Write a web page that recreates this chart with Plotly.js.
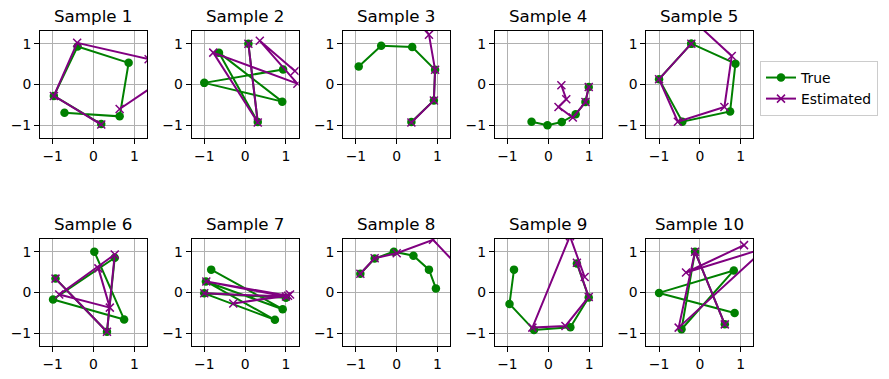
<!DOCTYPE html>
<html>
<head>
<meta charset="utf-8">
<script src="https://cdn.plot.ly/plotly-3.0.1.min.js"></script>
<style>html,body{margin:0;padding:0;background:#fff;}#chart{width:889px;height:379px;}</style>
</head>
<body>
<div id="chart"></div>
<script>
const sampleNames = ["Sample 1","Sample 2","Sample 3","Sample 4","Sample 5","Sample 6","Sample 7","Sample 8","Sample 9","Sample 10"];
const tickVals = [-1, 0, 1];
const tickText = ["\u22121", "0", "1"];

const trueX = [
  [-0.71, 0.64, 0.86, -0.39, -0.97, 0.19],
  [0.93, -1.0, 0.91, -0.64, 0.31, 0.08],
  [-0.93, -0.38, 0.38, 0.94, 0.91, 0.36],
  [-0.41, -0.02, 0.33, 0.67, 0.91, 0.99],
  [-0.21, -1.0, -0.43, 0.74, 0.87, -0.21],
  [0.02, 0.75, -0.99, 0.52, 0.33, -0.93],
  [-0.83, 0.92, -0.96, 0.73, -1.0, 1.0],
  [-0.89, -0.54, -0.07, 0.41, 0.79, 0.96],
  [-0.84, -0.95, -0.35, 0.54, 0.99, 0.70],
  [0.85, -1.0, 0.83, -0.45, -0.12, 0.61]
];
const trueY = [
  [-0.69, -0.78, 0.53, 0.93, -0.28, -0.97],
  [0.37, 0.04, -0.42, 0.78, -0.92, 1.0],
  [0.44, 0.95, 0.92, 0.36, -0.39, -0.92],
  [-0.91, -1.0, -0.92, -0.73, -0.43, -0.06],
  [1.0, 0.13, -0.91, -0.66, 0.51, 1.0],
  [1.0, -0.66, -0.17, 0.85, -0.96, 0.34],
  [0.56, -0.41, 0.27, -0.67, -0.02, -0.13],
  [0.46, 0.83, 1.0, 0.9, 0.56, 0.1],
  [0.56, -0.28, -0.92, -0.85, -0.12, 0.71],
  [-0.5, -0.01, 0.54, -0.9, 1.0, -0.78]
];
const estX = [
  [0.19, -0.97, -0.40, 1.35, 1.6, 0.64],
  [0.08, 0.31, -0.78, 1.28, 0.36, 1.22],
  [0.36, 0.91, 0.94, 0.79, 0.4, 0.0],
  [0.99, 0.91, 0.6, 0.25, 0.44, 0.32],
  [-0.21, -1.0, -0.54, 0.6, 0.78, -0.2],
  [-0.93, 0.33, 0.52, -0.84, 0.4, 0.12],
  [-1.0, 1.0, -0.95, 1.05, -0.29, 1.1],
  [-0.89, -0.54, 0.0, 0.89, 1.6, 1.8],
  [0.70, 0.99, 0.42, -0.39, 0.53, 0.89],
  [0.61, -0.12, -0.52, 1.61, -0.34, 1.08]
];
const estY = [
  [-0.98, -0.28, 1.02, 0.62, 0.05, -0.60],
  [1.0, -0.93, 0.78, 0.02, 1.07, 0.33],
  [-0.93, -0.39, 0.36, 1.22, 1.75, 2.0],
  [-0.06, -0.43, -0.81, -0.55, -0.36, -0.02],
  [1.0, 0.13, -0.91, -0.55, 0.70, 1.6],
  [0.34, -0.96, 0.93, -0.05, -0.37, 0.59],
  [-0.02, -0.1, 0.27, -0.08, -0.27, -0.05],
  [0.46, 0.84, 0.96, 1.29, 0.54, 0.0],
  [0.73, -0.11, -0.82, -0.86, 1.38, 0.38],
  [-0.78, 1.0, -0.86, 1.09, 0.49, 1.16]
];

const W = 889, H = 379;
const colLeft = [40, 191.6, 343.2, 494.8, 646.4];
const axW = 107;
const rowTop = [31, 239];
const axH = 107;
const FONT = "DejaVu Sans, sans-serif";

const data = [];
const layout = {
  width: W, height: H,
  margin: {l: 0, r: 0, t: 0, b: 0},
  paper_bgcolor: "#fff", plot_bgcolor: "#fff",
  font: {family: FONT, size: 13.9, color: "#000"},
  showlegend: true,
  legend: {
    x: 760 / W, y: 1 - 61 / H, xanchor: "left", yanchor: "top",
    bordercolor: "#cccccc", borderwidth: 1, bgcolor: "#fff",
    font: {family: FONT, size: 13.9, color: "#000"},
    tracegroupgap: 0
  },
  annotations: []
};

for (let i = 0; i < 10; i++) {
  const r = Math.floor(i / 5), c = i % 5;
  const sfx = i === 0 ? "" : String(i + 1);
  const x0 = colLeft[c] / W, x1 = (colLeft[c] + axW) / W;
  const yTop = 1 - rowTop[r] / H, yBot = 1 - (rowTop[r] + axH) / H;
  const axCommon = {
    range: [-1.31, 1.31], tickvals: tickVals, ticktext: tickText,
    showgrid: true, gridcolor: "#b0b0b0", gridwidth: 1,
    zeroline: false, showline: true, linecolor: "#000", linewidth: 1, mirror: true,
    ticks: "outside", ticklen: 5, tickwidth: 1, tickcolor: "#000",
    tickfont: {family: FONT, size: 13.9, color: "#000"}, fixedrange: true
  };
  layout["xaxis" + sfx] = Object.assign({}, axCommon, {domain: [x0, x1], anchor: "y" + sfx});
  layout["yaxis" + sfx] = Object.assign({}, axCommon, {domain: [yBot, yTop], anchor: "x" + sfx});
  data.push({
    type: "scatter", mode: "lines+markers", name: "True",
    x: trueX[i], y: trueY[i], xaxis: "x" + sfx, yaxis: "y" + sfx,
    line: {color: "green", width: 2},
    marker: {color: "green", size: 8.5, symbol: "circle"},
    showlegend: i === 0, legendgroup: "true"
  });
  data.push({
    type: "scatter", mode: "lines+markers", name: "Estimated",
    x: estX[i], y: estY[i], xaxis: "x" + sfx, yaxis: "y" + sfx,
    line: {color: "purple", width: 2},
    marker: {color: "purple", size: 8, symbol: "x-thin", line: {color: "purple", width: 1.5}},
    showlegend: i === 0, legendgroup: "est"
  });
  layout.annotations.push({
    text: sampleNames[i], xref: "paper", yref: "paper",
    x: (x0 + x1) / 2, y: yTop, xanchor: "center", yanchor: "bottom",
    yshift: 3, showarrow: false,
    font: {family: FONT, size: 16.7, color: "#000"}
  });
}

Plotly.newPlot("chart", data, layout, {staticPlot: true, displayModeBar: false});
</script>
</body>
</html>
